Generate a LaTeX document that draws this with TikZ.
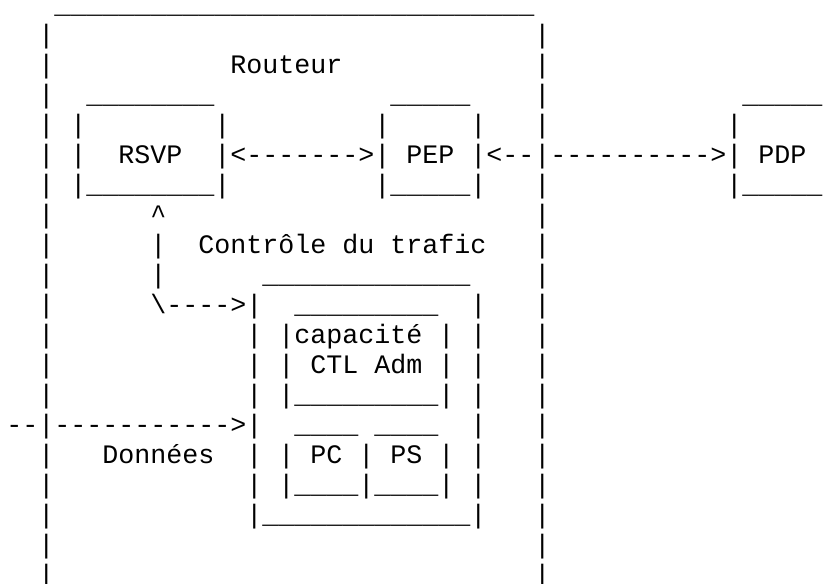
\documentclass[tikz,border=0pt]{standalone}
\usepackage{fontspec}
\setmonofont{Liberation Mono}

\tikzset{
    ascii/.style={font=\ttfamily\fontsize{20}{22.5}\selectfont, anchor=base west, inner sep=0pt},
}
% a run of underscores
\newcommand{\traits}[1]{\foreach \i in {1,...,#1}{\_}}

\begin{document}
\begin{tikzpicture}[x=12pt, y=-22.5pt]
    \fill[white] (-0.375,-0.4333) rectangle (51.3125,19);
    \useasboundingbox (-0.375,-0.4333) rectangle (51.3125,19);

    % cadre du routeur
    \node[ascii] (cadre) at (3,0) {\traits{30}};
    \foreach \r in {1,...,19} {
        \node[ascii] (gauche\r) at (2,\r) {|};
        \node[ascii] (droite\r) at (33,\r) {|};
    }
    \node[ascii] (routeur) at (14,2) {Routeur};

    % RSVP
    \node[ascii] (rsvp-haut) at (5,3) {\traits{8}};
    \node[ascii] (rsvp-g) at (4,4) {|};
    \node[ascii] (rsvp-d) at (13,4) {|};
    \node[ascii] (rsvp-g2) at (4,5) {|};
    \node[ascii] (rsvp) at (7,5) {RSVP};
    \node[ascii] (rsvp-d2) at (13,5) {|};
    \node[ascii] (rsvp-bas) at (4,6) {|\traits{8}|};

    % PEP
    \node[ascii] (pep-haut) at (24,3) {\traits{5}};
    \node[ascii] (pep-g) at (23,4) {|};
    \node[ascii] (pep-d) at (29,4) {|};
    \node[ascii] (pep-g2) at (23,5) {|};
    \node[ascii] (pep) at (25,5) {PEP};
    \node[ascii] (pep-d2) at (29,5) {|};
    \node[ascii] (pep-bas) at (23,6) {|\traits{5}|};

    % PDP
    \node[ascii] (pdp-haut) at (46,3) {\traits{5}};
    \node[ascii] (pdp-g) at (45,4) {|};
    \node[ascii] (pdp-g2) at (45,5) {|};
    \node[ascii] (pdp) at (47,5) {PDP};
    \node[ascii] (pdp-bas) at (45,6) {|\traits{5}};

    % echanges RSVP <-> PEP <-> PDP
    \node[ascii] (rsvp-pep) at (14,5) {<------->};
    \node[ascii] (pep-cadre) at (30,5) {<--};
    \node[ascii] (cadre-pdp) at (34,5) {---------->};

    % controle du trafic
    \node[ascii] (ctl-pointe) at (9,7) {\textasciicircum};
    \node[ascii] (ctl-tige1) at (9,8) {|};
    \node[ascii] (ctl-tige2) at (9,9) {|};
    \node[ascii] (ctl-coude) at (9,10) {\textbackslash---->};
    \node[ascii] (controle) at (12,8) {Contrôle du trafic};
    \node[ascii] (trafic-haut) at (16,9) {\traits{13}};
    \foreach \r in {10,...,16} {
        \node[ascii] (trafic-d\r) at (29,\r) {|};
    }
    \foreach \r in {11,...,16} {
        \node[ascii] (trafic-g\r) at (15,\r) {|};
    }
    \node[ascii] (trafic-g10) at (15,10) {|};
    \node[ascii] (trafic-bas) at (15,17) {|\traits{13}|};

    % capacite
    \node[ascii] (adm-haut) at (18,10) {\traits{9}};
    \node[ascii] (adm-g) at (17,11) {|};
    \node[ascii] (capacite) at (18,11) {capacité};
    \node[ascii] (adm-d) at (27,11) {|};
    \node[ascii] (adm-g2) at (17,12) {|};
    \node[ascii] (adm) at (19,12) {CTL Adm};
    \node[ascii] (adm-d2) at (27,12) {|};
    \node[ascii] (adm-bas) at (17,13) {|\traits{9}|};

    % PC et PS
    \node[ascii] (pc-haut) at (18,14) {\traits{4}};
    \node[ascii] (ps-haut) at (23,14) {\traits{4}};
    \node[ascii] (pc-g) at (17,15) {|};
    \node[ascii] (pc) at (19,15) {PC};
    \node[ascii] (pc-ps) at (22,15) {|};
    \node[ascii] (ps) at (24,15) {PS};
    \node[ascii] (ps-d) at (27,15) {|};
    \node[ascii] (pc-ps-bas) at (17,16) {|\traits{4}|\traits{4}|};

    % donnees
    \node[ascii] (entree) at (0,14) {--};
    \node[ascii] (donnees-fleche) at (3,14) {----------->};
    \node[ascii] (donnees) at (6,15) {Données};
\end{tikzpicture}
\end{document}
